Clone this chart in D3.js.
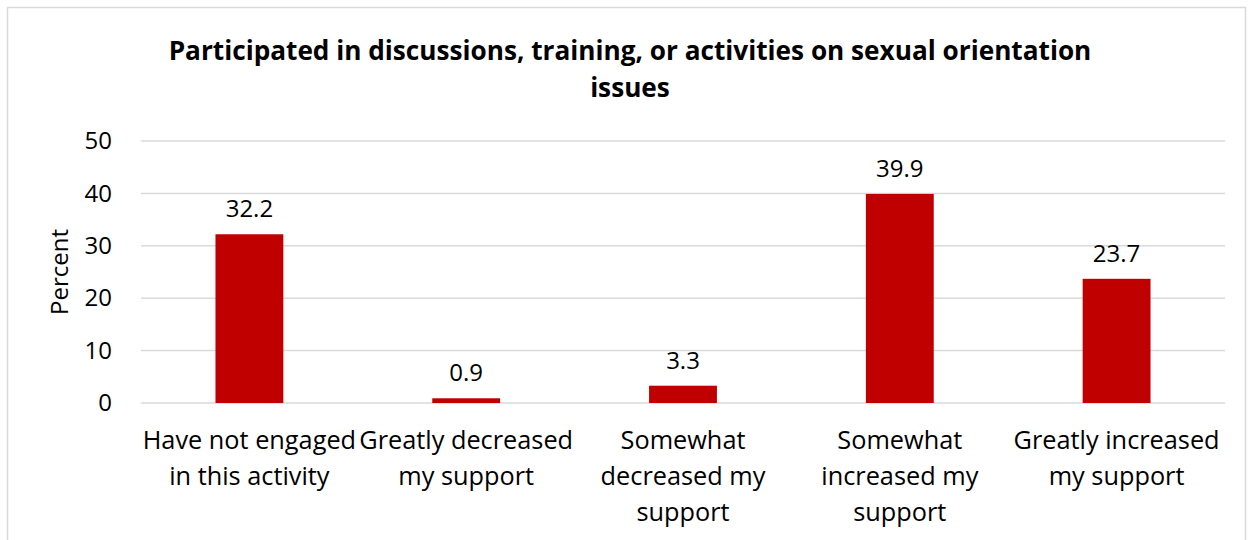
<!DOCTYPE html>
<html><head><meta charset="utf-8">
<script src="https://cdn.jsdelivr.net/npm/d3@7"></script>
<style>body{margin:0;background:#fff}svg{display:block}</style>
</head><body>
<script>
const categories = [
  ["Have not engaged", "in this activity"],
  ["Greatly decreased", "my support"],
  ["Somewhat", "decreased my", "support"],
  ["Somewhat", "increased my", "support"],
  ["Greatly increased", "my support"]
];
const values = [32.2, 0.9, 3.3, 39.9, 23.7];
const yTicks = [0, 10, 20, 30, 40, 50];
const titleLines = ["Participated in discussions, training, or activities on sexual orientation", "issues"];
const yTitle = "Percent";

const W = 1253, H = 540;
const font = "'Open Sans', Lato, sans-serif";
const svg = d3.select("body").append("svg").attr("width", W).attr("height", H);
svg.append("rect").attr("x", 7.5).attr("y", 7.5).attr("width", W - 15).attr("height", H + 10)
  .attr("fill", "#fff").attr("stroke", "#d9d9d9").attr("stroke-width", 1.5);

const x = d3.scaleBand().domain(d3.range(values.length)).range([141, 1225]);
const y = d3.scaleLinear().domain([0, 50]).range([403, 141]);

const tl = svg.append("g").attr("font-family", font).attr("font-weight", "bold").attr("font-size", 26.2).attr("text-anchor", "middle").attr("fill", "#000");
titleLines.forEach((t, i) => tl.append("text").attr("x", 630).attr("y", 60 + i * 37).text(t));

const grid = svg.append("g");
grid.selectAll("line").data(yTicks).join("line")
  .attr("x1", 141).attr("x2", 1225).attr("y1", d => y(d)).attr("y2", d => y(d))
  .attr("stroke", "#d9d9d9").attr("stroke-width", 1.5);

const yAxis = svg.append("g").attr("transform", "translate(141,0)")
  .call(d3.axisLeft(y).tickValues(yTicks).tickSize(0).tickPadding(29).tickFormat(d3.format("d")));
yAxis.select(".domain").remove();
yAxis.selectAll("text").attr("font-family", font).attr("font-size", 24).attr("fill", "#000");

svg.append("text").attr("transform", "translate(68,272) rotate(-90)").attr("text-anchor", "middle")
  .attr("font-family", font).attr("font-size", 24).attr("fill", "#000").text(yTitle);

const bw = x.bandwidth() * 0.313;
svg.append("g").selectAll("rect").data(values).join("rect")
  .attr("x", (d, i) => x(i) + x.bandwidth() / 2 - bw / 2)
  .attr("width", bw)
  .attr("y", d => y(d)).attr("height", d => y(0) - y(d))
  .attr("fill", "#c00000");

svg.append("g").selectAll("text").data(values).join("text")
  .attr("x", (d, i) => x(i) + x.bandwidth() / 2).attr("y", d => y(d) - 17)
  .attr("text-anchor", "middle").attr("font-family", font).attr("font-size", 24).attr("fill", "#000")
  .text(d => d.toFixed(1));

const xl = svg.append("g").attr("font-family", font).attr("font-size", 25.3).attr("fill", "#000").attr("text-anchor", "middle");
categories.forEach((lines, i) => {
  const t = xl.append("text").attr("x", x(i) + x.bandwidth() / 2).attr("y", 449);
  lines.forEach((l, j) => t.append("tspan").attr("x", x(i) + x.bandwidth() / 2).attr("dy", j === 0 ? 0 : 36).text(l));
});
</script>
</body></html>
